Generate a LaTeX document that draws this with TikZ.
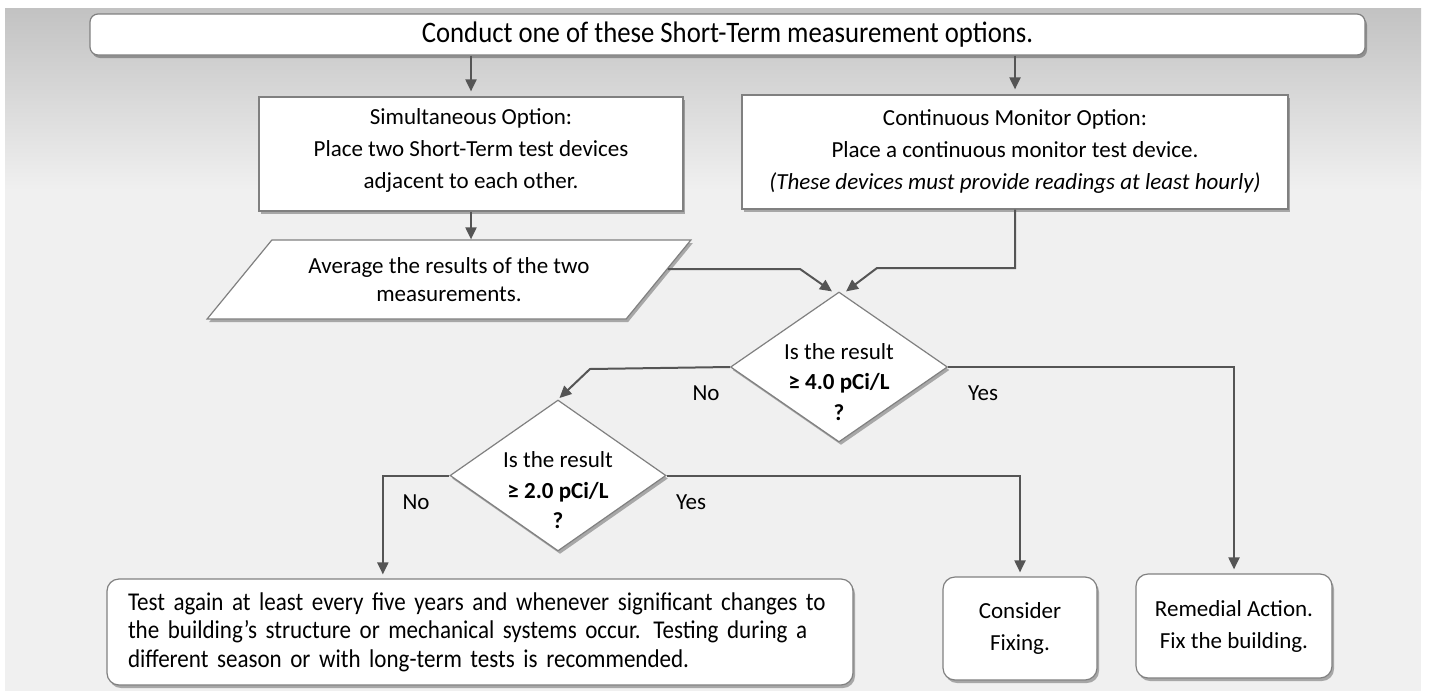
\documentclass[tikz,border=0pt]{standalone}
\usepackage{fontspec}
\setmainfont{Carlito}
\newfontfamily\condfont[FakeStretch=0.9]{Carlito}
\usetikzlibrary{shapes.geometric,arrows.meta,shadows,calc}
\definecolor{bgc}{HTML}{F0F0F0}
\definecolor{bgtop}{HTML}{C2C2C2}
\definecolor{edgec}{HTML}{808080}
\definecolor{arrc}{HTML}{555555}
\begin{document}
\begin{tikzpicture}[x=1pt,y=-1pt,
  boxbase/.style={draw=edgec, line width=1.2pt, fill=white,
    drop shadow={shadow xshift=2pt, shadow yshift=-3pt, opacity=0.3, fill=black},
    inner sep=0pt, align=center, font=\fontsize{23}{32}\selectfont},
  sqbox/.style={boxbase, rectangle},
  rndbox/.style={boxbase, rectangle, rounded corners=12pt},
  decbox/.style={boxbase, diamond, inner sep=0pt},
  dtext/.style={align=center, font=\fontsize{23}{30.5}\selectfont, inner sep=0pt, yshift=-15pt},
  lbl/.style={font=\fontsize{23}{28}\selectfont, inner sep=0pt},
  arr/.style={draw=arrc, color=arrc, line width=2pt, -{Triangle[width=11pt,length=12pt]}},
]
\useasboundingbox (0,0) rectangle (1432,691);
% background
\fill[white] (0,0) rectangle (1432,691);
\fill[bgc] (5,8) rectangle (1421,691);
\shade[top color=bgtop, bottom color=bgc] (5,8) rectangle (1421,190);

% nodes
\node[rndbox, rounded corners=8pt, minimum width=1275pt, minimum height=41pt,
      font=\condfont\fontsize{29.7}{32}\selectfont] (top) at (727.5,34.5)
  {Conduct one of these Short-Term measurement options.};

\node[sqbox, minimum width=424pt, minimum height=114pt] (sim) at (471,154)
  {Simultaneous Option:\\Place two Short-Term test devices\\adjacent to each other.\\[-21pt]};

\node[sqbox, minimum width=546pt, minimum height=114pt] (cont) at (1015,152)
  {Continuous Monitor Option:\\Place a continuous monitor test device.\\\textit{(These devices must provide readings at least hourly)}};

\node[boxbase, trapezium, trapezium left angle=41, trapezium right angle=139,
      trapezium stretches=true, minimum width=486pt, minimum height=79pt,
      font=\fontsize{23}{28.5}\selectfont] (par) at (449,279.5)
  {Average the results of the two\\measurements.};

\node[decbox, minimum width=217pt, minimum height=150pt,
      label={[dtext]center:{Is the result\\\textbf{≥ 4.0 pCi/L}\\\textbf{?}}}] (d1) at (839,367) {};

\node[decbox, minimum width=216pt, minimum height=151pt,
      label={[dtext]center:{Is the result\\\textbf{≥ 2.0 pCi/L}\\\textbf{?}}}] (d2) at (558,475.5) {};

\node[rndbox, minimum width=746pt, minimum height=106pt, align=left, text width=704pt,
      font=\condfont\fontsize{25.6}{28.5}\selectfont] (test) at (480,632)
  {Test again at least every five years and whenever significant changes to\\the building’s structure or mechanical systems occur. Testing during a\\different season or with long-term tests is recommended.};

\node[rndbox, minimum width=154pt, minimum height=103pt] (con) at (1020,628.5)
  {Consider\\Fixing.};

\node[rndbox, minimum width=196pt, minimum height=104pt] (rem) at (1234,626)
  {Remedial Action.\\Fix the building.};

% labels
\node[lbl] (no1) at (706,393) {No};
\node[lbl] (yes1) at (983,393) {Yes};
\node[lbl] (no2) at (416,502) {No};
\node[lbl] (yes2) at (691,502) {Yes};

% connectors
\draw[arr, shorten >=5pt] (top.south -| sim.north) -- (sim.north);
\draw[arr, shorten >=5pt] (top.south -| cont.north) -- (cont.north);
\draw[arr] (sim.south) -- (sim.south |- par.north);
\draw[arr] ($(par.top right corner)!0.37!(par.bottom right corner)$) -- (800,269) -- ([xshift=-7pt]d1.north);
\draw[arr] (cont.south) -- (cont.south |- 0,268) -- (877,268) -- ([xshift=7pt]d1.north);
\draw[arr, shorten >=2pt] (d1.west) -- (590,369) -- (d2.north);
\draw[arr, shorten >=4pt] (d1.east) -| (rem.north);
\draw[arr, shorten >=4pt] (d2.east) -| (con.north);
\draw[arr, shorten >=4pt] (d2.west) -| ($(test.north west)!0.37!(test.north east)$);
\end{tikzpicture}
\end{document}
